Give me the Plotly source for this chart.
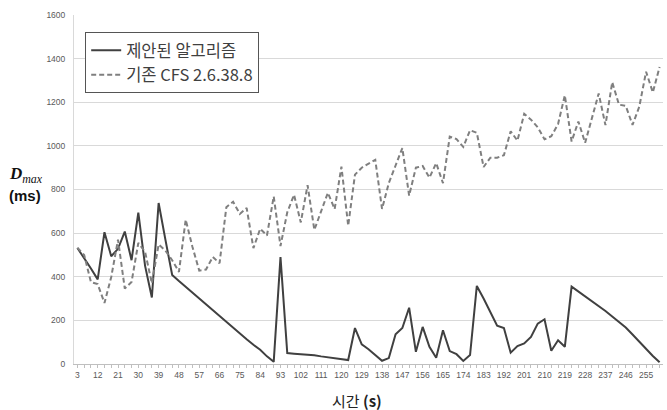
import plotly.graph_objects as go

seconds = [3, 6, 9, 12, 15, 18, 21, 24, 27, 30, 33, 36, 39, 42, 45, 48, 51, 54, 57, 60,
           63, 66, 69, 72, 75, 78, 81, 84, 87, 90, 93, 96, 99, 102, 105, 108, 111, 114, 117, 120,
           123, 126, 129, 132, 135, 138, 141, 144, 147, 150, 153, 156, 159, 162, 165, 168, 171, 174, 177, 180,
           183, 186, 189, 192, 195, 198, 201, 204, 207, 210, 213, 216, 219, 222, 225, 228, 231, 234, 237, 240,
           243, 246, 249, 252, 255, 258, 261]

tick_labels = ["3", "12", "21", "30", "39", "48", "57", "66", "75", "84", "93", "102", "111", "120",
               "129", "138", "147", "156", "165", "174", "183", "192", "201", "210", "219", "228",
               "237", "246", "255"]

proposed = [532, 488, 438, 388, 604, 494, 528, 607, 476, 694, 450, 305, 738, 570, 408, 380, 353, 326, 299, 272,
            245, 222, 195, 167, 140, 113, 88, 65, 35, 10, 490, 50, 47, 45, 42, 40, 35, 30, 25, 21,
            18, 165, 90, 68, 41, 15, 27, 136, 165, 258, 56, 170, 79, 29, 155, 59, 45, 14, 41, 358,
            300, 238, 176, 165, 52, 82, 94, 124, 185, 205, 61, 109, 79, 355, 333, 312, 290, 267, 243, 218,
            193, 167, 135, 101, 67, 37, 8]

cfs = [533, 500, 376, 366, 280, 399, 570, 346, 376, 555, 514, 370, 548, 520, 476, 422, 662, 536, 428, 433,
       491, 462, 719, 744, 688, 715, 531, 620, 589, 768, 541, 695, 776, 649, 820, 615, 700, 785, 710, 905,
       634, 868, 900, 920, 936, 711, 830, 910, 990, 772, 900, 908, 854, 921, 829, 1042, 1031, 995, 1072, 1060,
       903, 946, 946, 957, 1067, 1024, 1147, 1120, 1085, 1030, 1044, 1100, 1232, 1020, 1112, 1014, 1126, 1240, 1095, 1292,
       1189, 1183, 1096, 1180, 1340, 1245, 1362]

y_ticks = [0, 200, 400, 600, 800, 1000, 1200, 1400, 1600]

fig = go.Figure()
fig.add_trace(go.Scatter(x=seconds, y=proposed, mode="lines", name="제안된 알고리즘",
                         line=dict(color="#404040", width=2)))
fig.add_trace(go.Scatter(x=seconds, y=cfs, mode="lines", name="기존 CFS 2.6.38.8",
                         line=dict(color="#7f7f7f", width=2, dash="5px,3px")))

fig.update_layout(
    width=667, height=410,
    margin=dict(l=74, r=4, t=15, b=46),
    paper_bgcolor="white", plot_bgcolor="white",
    font=dict(family="Liberation Sans, Noto Sans CJK KR, sans-serif", color="#404040"),
    showlegend=True,
    legend=dict(x=0.019, y=0.951, xanchor="left", yanchor="top",
                bordercolor="#555555", borderwidth=1, bgcolor="white",
                font=dict(size=16.5, family="Noto Sans CJK KR, Liberation Sans, sans-serif", color="#404040"),
                tracegroupgap=0, itemwidth=30),
)
fig.update_xaxes(range=[1.5, 262.5], tickmode="array",
                 tickvals=[int(t) for t in tick_labels], ticktext=tick_labels,
                 ticks="outside", ticklen=3, tickcolor="#bfbfbf", showgrid=False,
                 minor=dict(ticks="outside", tickmode="array", tickvals=seconds, ticklen=3,
                            tickcolor="#bfbfbf", showgrid=False),
                 showline=True, linecolor="#bfbfbf", linewidth=1,
                 tickfont=dict(size=8.5, color="#595959"), zeroline=False)
fig.update_yaxes(range=[0, 1600], tickvals=y_ticks, showgrid=True, gridcolor="#d9d9d9", gridwidth=1,
                 showline=True, linecolor="#d9d9d9", linewidth=1, ticks="", zeroline=False,
                 tickfont=dict(size=8.5, color="#595959"), ticklabelstandoff=6)

fig.add_annotation(xref="paper", yref="paper", x=(357 - 74) / 589, y=(364 - 400) / 349,
                   text="시간 <b>(s)</b>", showarrow=False, xanchor="center", yanchor="middle",
                   font=dict(size=15, family="Noto Sans CJK KR, Liberation Sans, sans-serif", color="#222222"))
fig.add_annotation(xref="paper", yref="paper", x=(7 - 74) / 589, y=(364 - 175) / 349,
                   text="<b><i>D</i></b><i><sub>max</sub></i>", showarrow=False, xanchor="left", yanchor="middle",
                   font=dict(size=17, family="Liberation Serif, serif", color="#111111"))
fig.add_annotation(xref="paper", yref="paper", x=(7 - 74) / 589, y=(364 - 195) / 349,
                   text="<b>(ms)</b>", showarrow=False, xanchor="left", yanchor="middle",
                   font=dict(size=15, family="Liberation Sans, sans-serif", color="#111111"))

fig.write_html("out.html", config={"displayModeBar": False},
               post_script="document.body.style.margin='0';document.body.style.overflow='hidden';")
